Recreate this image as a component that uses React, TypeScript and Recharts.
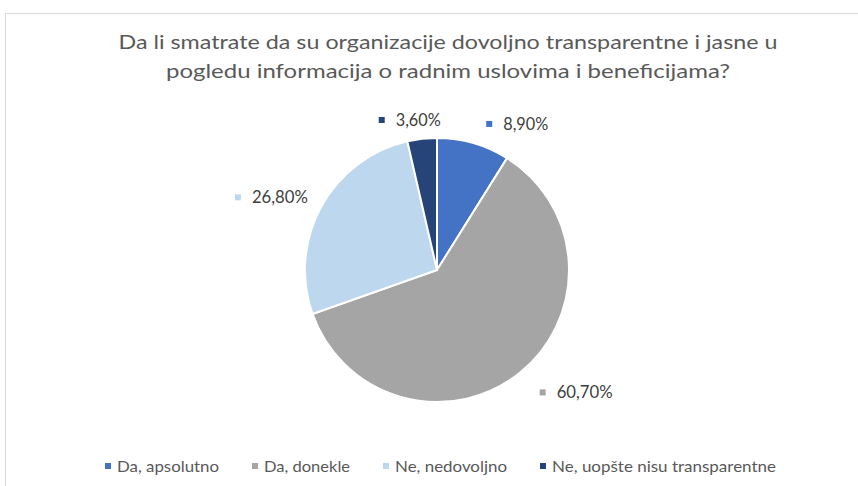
import React from 'react';
import { PieChart, Pie, Cell, Legend } from 'recharts';

const categories = ['Da, apsolutno', 'Da, donekle', 'Ne, nedovoljno', 'Ne, uopšte nisu transparentne'];
const values = [8.9, 60.7, 26.8, 3.6];
const valueLabels = ['8,90%', '60,70%', '26,80%', '3,60%'];
const titleLines = [
  'Da li smatrate da su organizacije dovoljno transparentne i jasne u',
  'pogledu informacija o radnim uslovima i beneficijama?',
];

const colors = ['#4472C4', '#A5A5A5', '#BDD7EE', '#264478'];
const labelOffsets: [number, number][] = [[7, 1], [7, 3], [-68, 1], [-41, 2]];
const labelTextWidths = [45, 56, 56, 45];
const legendTextWidths = [102, 86, 112, 224];
const titleWidths = [659, 564];

const data = categories.map((name, i) => ({ name, value: values[i], label: valueLabels[i] }));

const FONT = 'Lato, "Open Sans", sans-serif';
const RAD = Math.PI / 180;

const renderLabel = (props: any) => {
  const { cx, cy, midAngle, outerRadius, index } = props;
  const r = outerRadius + 21;
  const px = cx + r * Math.cos(-midAngle * RAD);
  const py = cy + r * Math.sin(-midAngle * RAD);
  const [dx, dy] = labelOffsets[index];
  const x = px + dx;
  const y = py + dy;
  return (
    <g key={`lbl-${index}`}>
      <rect x={x} y={y - 3} width={6} height={6} fill={colors[index]} />
      <text
        x={x + 17}
        y={y + 6}
        fontFamily={FONT}
        fontSize={16.5}
        fill="#404040"
        textLength={labelTextWidths[index]}
        lengthAdjust="spacingAndGlyphs"
      >
        {data[index].label}
      </text>
    </g>
  );
};

const renderLegend = () => {
  let x = 105;
  const items = data.map((d, i) => {
    const sx = x;
    const tx = sx + 12;
    x = tx + legendTextWidths[i] + 33;
    return (
      <g key={d.name}>
        <rect x={sx} y={13} width={6} height={6} fill={colors[i]} />
        <text
          x={tx}
          y={21.5}
          fontFamily={FONT}
          fontSize={15}
          fill="#595959"
          textLength={legendTextWidths[i]}
          lengthAdjust="spacingAndGlyphs"
        >
          {d.name}
        </text>
      </g>
    );
  });
  return (
    <svg width={858} height={30} style={{ display: 'block' }}>
      {items}
    </svg>
  );
};

export default function App() {
  return (
    <div style={{ position: 'absolute', left: 0, top: 0, width: 858, height: 486, background: '#fff' }}>
      <PieChart width={858} height={486} margin={{ top: 0, right: 0, bottom: 0, left: 0 }}>
        <rect x={5.5} y={13.5} width={900} height={600} fill="none" stroke="#D9D9D9" strokeWidth={1} />
        {titleLines.map((line, i) => (
          <text
            key={i}
            x={448}
            y={49 + i * 29}
            textAnchor="middle"
            fontFamily={FONT}
            fontSize={20}
            fill="#595959"
            textLength={titleWidths[i]}
            lengthAdjust="spacingAndGlyphs"
          >
            {line}
          </text>
        ))}
        <Pie
          data={data}
          dataKey="value"
          nameKey="name"
          cx={437}
          cy={270}
          outerRadius={132}
          startAngle={90}
          endAngle={-270}
          stroke="#FFFFFF"
          strokeWidth={2}
          label={renderLabel}
          labelLine={false}
          isAnimationActive={false}
        >
          {data.map((d, i) => (
            <Cell key={d.name} fill={colors[i]} />
          ))}
        </Pie>
        <Legend
          content={renderLegend}
          wrapperStyle={{ position: 'absolute', left: 0, top: 450, width: 858, height: 30 }}
        />
      </PieChart>
    </div>
  );
}
